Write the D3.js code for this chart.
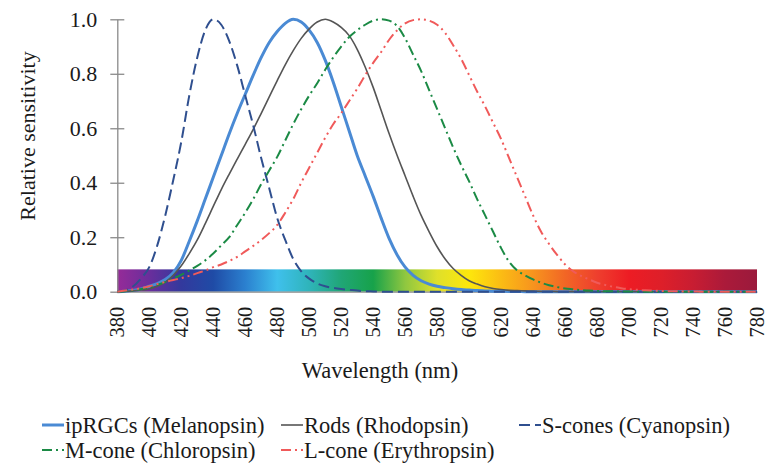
<!DOCTYPE html>
<html>
<head>
<meta charset="utf-8">
<script src="https://cdn.jsdelivr.net/npm/d3@7/dist/d3.min.js"></script>
<style>
  html, body { margin: 0; padding: 0; background: #fff; }
  svg { display: block; }
  svg text { font-family: "Liberation Serif", "DejaVu Serif", "Noto Serif", "Times New Roman", serif !important; fill: #1a1a1a; }
</style>
</head>
<body>
<svg id="chart" width="768" height="464"></svg>
<script>
// ---------------- data ----------------
const wavelengths = d3.range(380, 781, 5); // 81 categories, nm
const xTickLabels = d3.range(380, 781, 20);
const yTickLabels = [0, 0.2, 0.4, 0.6, 0.8, 1.0];

const ipRGC = [0.0,0.002,0.005,0.01,0.02,0.03,0.045,0.07,0.115,0.185,0.26,0.34,0.42,0.50,0.58,0.655,0.725,0.795,0.86,0.915,0.955,0.985,1.0,0.99,0.96,0.915,0.85,0.77,0.68,0.59,0.50,0.425,0.35,0.27,0.195,0.135,0.09,0.06,0.04,0.028,0.02,0.015,0.011,0.008,0.006,0.004,0.003,0.002,0.002,0.001,0.001,
  0,0,0,0,0,0,0,0,0,0,0,0,0,0,0,0,0,0,0,0,0,0,0,0,0,0,0,0,0,0];
const rods = [0.0,0.001,0.003,0.006,0.01,0.02,0.035,0.06,0.095,0.14,0.19,0.25,0.313,0.375,0.432,0.487,0.541,0.596,0.655,0.715,0.775,0.833,0.885,0.93,0.965,0.99,1.0,0.99,0.97,0.94,0.89,0.825,0.75,0.665,0.58,0.50,0.425,0.35,0.28,0.22,0.165,0.12,0.085,0.06,0.04,0.028,0.018,0.012,0.008,0.005,0.004,0.003,0.002,0.001,0.001,
  0,0,0,0,0,0,0,0,0,0,0,0,0,0,0,0,0,0,0,0,0,0,0,0,0,0];
const sCones = [0.0,0.005,0.02,0.05,0.09,0.17,0.28,0.41,0.55,0.72,0.86,0.96,1.0,0.98,0.92,0.83,0.72,0.61,0.49,0.38,0.27,0.19,0.12,0.075,0.048,0.03,0.02,0.014,0.01,0.007,0.004,0.002,0.001,
  0,0,0,0,0,0,0,0,0,0,0,0,0,0,0,0,0,0,0,0,0,0,0,0,0,0,0,0,0,0,0,0,0,0,0,0,0,0,0,0,0,0,0,0,0,0,0,0];
const mCone = [0.0,0.002,0.005,0.01,0.015,0.025,0.035,0.048,0.062,0.078,0.095,0.115,0.14,0.17,0.20,0.245,0.29,0.34,0.395,0.445,0.495,0.555,0.615,0.67,0.72,0.765,0.815,0.86,0.90,0.935,0.96,0.98,0.995,1.0,0.995,0.975,0.93,0.87,0.81,0.74,0.67,0.60,0.53,0.465,0.405,0.34,0.28,0.22,0.16,0.11,0.078,0.06,0.045,0.033,0.024,0.017,0.012,0.009,0.006,0.004,0.003,0.002,0.002,0.001,0.001,
  0,0,0,0,0,0,0,0,0,0,0,0,0,0,0,0];
const lCone = [0.0,0.004,0.008,0.013,0.02,0.028,0.036,0.043,0.05,0.058,0.068,0.078,0.09,0.10,0.113,0.128,0.148,0.168,0.19,0.215,0.245,0.29,0.34,0.40,0.455,0.51,0.565,0.615,0.655,0.70,0.745,0.795,0.84,0.88,0.925,0.96,0.985,0.997,1.0,0.995,0.98,0.95,0.905,0.855,0.795,0.735,0.68,0.62,0.56,0.49,0.42,0.35,0.28,0.22,0.175,0.135,0.10,0.075,0.058,0.045,0.033,0.025,0.018,0.013,0.009,0.007,0.005,0.004,0.003,0.002,0.002,0.001,0.001,
  0,0,0,0,0,0,0,0];

const seriesNames = ["ipRGCs (Melanopsin)", "Rods (Rhodopsin)", "S-cones (Cyanopsin)", "M-cone (Chloropsin)", "L-cone (Erythropsin)"];
const seriesValues = [ipRGC, rods, sCones, mCone, lCone];

// visible-spectrum band (wavelength range and height in sensitivity units)
const bandRange = [380, 780];
const bandHeight = 0.082;
const bandStopWavelengths = [380,400,420,440,460,480,500,520,540,560,580,600,620,640,660,680,700,720,740,760,780];
const bandStopColors = ["#962b98","#6a2e9c","#33399d","#1f4ba6","#2b80cf","#3fc0ec","#2fb4ba","#20a676","#17a24a","#8fc740","#dfe02a","#fde70c","#fbbc14","#f7941e","#f26625","#ee3f2e","#ed1c24","#de1f29","#c81d32","#ab1a3a","#9a1a3c"];

// ---------------- styles ----------------
const seriesStyles = [
  { color: "#4a8ad4", width: 3,   dash: null },
  { color: "#555555", width: 1.6, dash: null },
  { color: "#2f4f8f", width: 2,   dash: "11,5" },
  { color: "#1b8a45", width: 2,   dash: "10,4,2,4" },
  { color: "#f05a5a", width: 2,   dash: "10,4,2,4,2,4" }
];

// ---------------- layout ----------------
const svg = d3.select("#chart");
const plotLeft = 117.3, plotRight = 757, plotTop = 19.3, plotBottom = 291.7;
const serif = "Liberation Serif, DejaVu Serif, Noto Serif, serif";

const x = d3.scaleLinear().domain([380, 780]).range([plotLeft, plotRight]);
const y = d3.scaleLinear().domain([0, 1]).range([plotBottom, plotTop]);

// gradient
const defs = svg.append("defs");
const grad = defs.append("linearGradient")
  .attr("id", "spectrum")
  .attr("gradientUnits", "userSpaceOnUse")
  .attr("x1", x(bandRange[0])).attr("x2", x(bandRange[1]))
  .attr("y1", 0).attr("y2", 0);
bandStopWavelengths.forEach((w, i) => {
  grad.append("stop")
    .attr("offset", (w - bandRange[0]) / (bandRange[1] - bandRange[0]))
    .attr("stop-color", bandStopColors[i]);
});

svg.append("rect")
  .attr("x", x(bandRange[0]))
  .attr("y", y(bandHeight))
  .attr("width", x(bandRange[1]) - x(bandRange[0]))
  .attr("height", y(0) - y(bandHeight))
  .attr("fill", "url(#spectrum)");

// axes
const yAxis = d3.axisLeft(y).tickValues(yTickLabels).tickFormat(d3.format(".1f"))
  .tickSizeInner(7).tickSizeOuter(0).tickPadding(13);
const gy = svg.append("g").attr("transform", `translate(${plotLeft},0)`).call(yAxis);
gy.attr("font-family", serif);
gy.select(".domain").attr("stroke", "#8a8a8a").attr("stroke-width", 1.3);
gy.selectAll(".tick line").attr("x1", 7).attr("stroke", "#8a8a8a").attr("stroke-width", 1.3);
gy.selectAll(".tick text").attr("font-size", 22).attr("fill", "#1a1a1a");

const xAxis = d3.axisBottom(x).tickValues(xTickLabels).tickFormat(d3.format("d"))
  .tickSize(0).tickSizeOuter(0);
const gx = svg.append("g").attr("transform", `translate(0,${plotBottom})`).call(xAxis);
gx.attr("font-family", serif);
gx.select(".domain").attr("stroke", "#8a8a8a").attr("stroke-width", 1.3);
gx.selectAll(".tick text")
  .attr("font-size", 20.5).attr("fill", "#1a1a1a")
  .attr("transform", "rotate(-90)")
  .attr("text-anchor", "end")
  .attr("x", -15).attr("y", 0).attr("dy", "0.3em");

// lines
const line = d3.line()
  .x((d, i) => x(wavelengths[i]))
  .y(d => y(d))
  .curve(d3.curveMonotoneX);

seriesValues.forEach((vals, k) => {
  const st = seriesStyles[k];
  svg.append("path")
    .datum(vals)
    .attr("d", line)
    .attr("fill", "none")
    .attr("stroke", st.color)
    .attr("stroke-width", st.width)
    .attr("stroke-dasharray", st.dash)
    .attr("stroke-linejoin", "round");
});

// axis titles
svg.append("text")
  .attr("transform", `translate(27,136) rotate(-90)`)
  .attr("text-anchor", "middle").attr("dy", "0.35em")
  .attr("font-size", 22).attr("font-family", serif)
  .text("Relative sensitivity");

svg.append("text")
  .attr("x", 380).attr("y", 370)
  .attr("text-anchor", "middle").attr("dy", "0.35em")
  .attr("font-size", 22.5).attr("font-family", serif)
  .text("Wavelength (nm)");

// legend
const legendCols = [42, 281, 519];
const legendRows = [425, 450];
const legendPos = [[0,0],[1,0],[2,0],[0,1],[1,1]];
seriesNames.forEach((name, k) => {
  const st = seriesStyles[k];
  const lx = legendCols[legendPos[k][0]];
  const ly = legendRows[legendPos[k][1]];
  svg.append("line")
    .attr("x1", lx).attr("x2", lx + 22)
    .attr("y1", ly).attr("y2", ly)
    .attr("stroke", st.color)
    .attr("stroke-width", st.width)
    .attr("stroke-dasharray", st.dash);
  svg.append("text")
    .attr("x", lx + 23).attr("y", ly)
    .attr("dy", "0.35em")
    .attr("font-size", 22.5).attr("font-family", serif)
    .text(name);
});
</script>
</body>
</html>
